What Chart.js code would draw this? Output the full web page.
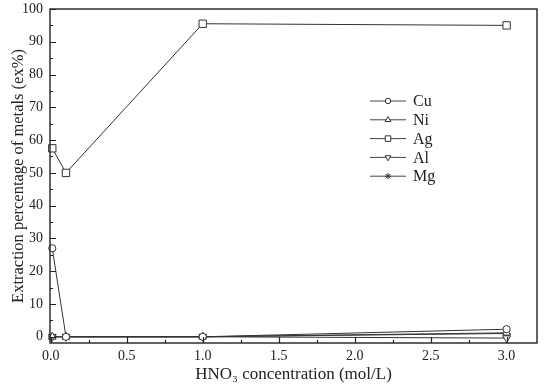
<!DOCTYPE html>
<html>
<head>
<meta charset="utf-8">
<script src="https://cdn.jsdelivr.net/npm/chart.js@4.4.0/dist/chart.umd.min.js"></script>
<style>
  html, body { margin: 0; padding: 0; background: #fff; }
  #wrap { width: 550px; height: 385px; }
</style>
</head>
<body>
<div id="wrap"><canvas id="myChart" width="550" height="385"></canvas></div>
<script>
// HNO3 concentration (mol/L)
const concentrations = [0.01, 0.1, 1.0, 3.0];
const cu = [27, 0, 0, 2.3];
const ni = [0, 0, 0, 1.2];
const ag = [57.5, 50, 95.5, 95];
const al = [0, 0, 0, -0.4];
const mg = [0, 0, 0, 1.0];

const xTicks = [0, 0.5, 1.0, 1.5, 2.0, 2.5, 3.0];
const yTicks = [0, 10, 20, 30, 40, 50, 60, 70, 80, 90, 100];

const SERIF = '"Liberation Serif", "Times New Roman", serif';
const INK = '#222';

const metals = [
    { label: 'Cu', values: cu, style: 'circle', r: 3.6, rot: 0 },
    { label: 'Ni', values: ni, style: 'triangle', r: 4.5, rot: 0 },
    { label: 'Ag', values: ag, style: 'rect', r: 5.2, rot: 0 },
    { label: 'Al', values: al, style: 'triangle', r: 4.5, rot: 180 },
    { label: 'Mg', values: mg, style: 'star', r: 4.2, rot: 0 }
];

// frame, inward ticks and legend
const framePlugin = {
    id: 'frame',
    afterDraw(chart) {
        const ctx = chart.ctx;
        const a = chart.chartArea;
        const xs = chart.scales.x, ys = chart.scales.y;
        ctx.save();
        ctx.strokeStyle = INK;
        ctx.lineWidth = 1.4;
        ctx.strokeRect(a.left, a.top, a.right - a.left, a.bottom - a.top);
        ctx.lineWidth = 1.2;
        ctx.beginPath();
        for (let v = 0; v <= 100; v += 5) {
            const y = Math.round(ys.getPixelForValue(v)) + 0.5;
            const len = v % 10 === 0 ? 6 : 3;
            ctx.moveTo(a.left, y);
            ctx.lineTo(a.left + len, y);
        }
        for (let v = 0; v <= 3.0001; v += 0.25) {
            const x = Math.round(xs.getPixelForValue(v)) + 0.5;
            const len = Math.abs(v * 2 - Math.round(v * 2)) < 1e-6 ? 6 : 3;
            ctx.moveTo(x, a.bottom);
            ctx.lineTo(x, a.bottom - len);
        }
        ctx.stroke();

        // legend
        ctx.font = '16px ' + SERIF;
        ctx.textBaseline = 'middle';
        ctx.fillStyle = INK;
        metals.forEach((m, i) => {
            const y = a.top + 92 + i * 18.8;
            const x0 = a.left + 320;
            ctx.strokeStyle = '#444';
            ctx.lineWidth = 1;
            ctx.beginPath();
            ctx.moveTo(x0, y);
            ctx.lineTo(x0 + 36, y);
            ctx.stroke();
            ctx.fillStyle = '#fff';
            ctx.strokeStyle = '#333';
            Chart.helpers.drawPoint(ctx, {
                pointStyle: m.style,
                radius: m.r * 0.75,
                rotation: m.rot,
                borderWidth: 1
            }, x0 + 18, y);
            ctx.fillStyle = INK;
            ctx.fillText(m.label, x0 + 43, y + 1);
        });
        ctx.restore();
    }
};

const ctx = document.getElementById('myChart').getContext('2d');
new Chart(ctx, {
    type: 'line',
    data: {
        datasets: metals.map(m => ({
            label: m.label,
            data: concentrations.map((c, i) => ({ x: c, y: m.values[i] })),
            borderColor: '#333',
            borderWidth: 1,
            backgroundColor: '#fff',
            pointBackgroundColor: '#fff',
            pointBorderColor: '#333',
            pointBorderWidth: 1,
            pointStyle: m.style,
            pointRadius: m.r,
            pointRotation: m.rot,
            tension: 0,
            clip: false
        }))
    },
    options: {
        responsive: false,
        animation: false,
        events: [],
        layout: { padding: { top: 9, right: 13, left: 9, bottom: 0 } },
        plugins: {
            legend: { display: false },
            tooltip: { enabled: false }
        },
        scales: {
            x: {
                type: 'linear',
                min: -0.005,
                max: 3.2,
                grid: { display: false, drawTicks: false },
                border: { display: false },
                afterBuildTicks: s => { s.ticks = xTicks.map(v => ({ value: v })); },
                afterFit: s => { s.height = 42; s.paddingLeft = 0; s.paddingRight = 0; },
                ticks: {
                    color: INK,
                    padding: 5,
                    maxRotation: 0,
                    font: { family: SERIF, size: 14 },
                    callback: v => v.toFixed(1)
                },
                title: {
                    display: true,
                    text: 'HNO\u2083 concentration (mol/L)',
                    color: INK,
                    padding: { top: 0, bottom: 0 },
                    font: { family: SERIF, size: 17 }
                }
            },
            y: {
                type: 'linear',
                min: -1.9,
                max: 100,
                grid: { display: false, drawTicks: false },
                border: { display: false },
                afterBuildTicks: s => { s.ticks = yTicks.map(v => ({ value: v })); },
                afterFit: s => { s.width = 41; s.paddingTop = 0; s.paddingBottom = 0; },
                ticks: {
                    color: INK,
                    padding: 7,
                    font: { family: SERIF, size: 14 }
                },
                title: {
                    display: true,
                    text: 'Extraction percentage of metals (ex%)',
                    color: INK,
                    padding: { top: 0, bottom: 0 },
                    font: { family: SERIF, size: 16.5 }
                }
            }
        }
    },
    plugins: [framePlugin]
});
</script>
</body>
</html>
